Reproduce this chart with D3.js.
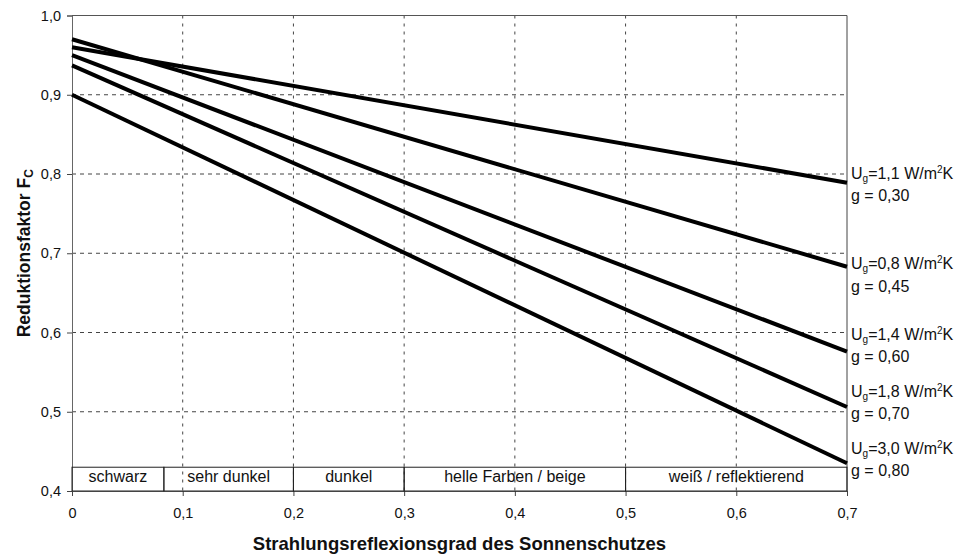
<!DOCTYPE html>
<html>
<head>
<meta charset="utf-8">
<script src="https://cdn.jsdelivr.net/npm/d3@7"></script>
<style>
  body { margin: 0; background: #fff; }
  text { font-family: "Liberation Sans", Arial, sans-serif; fill: #111; }
</style>
</head>
<body>
<div id="chart"></div>
<script>
var WIDTH = 959
var HEIGHT = 558

// curves: Reduktionsfaktor at reflexion 0 and 0.7
var ugLabels = ['1,1', '0,8', '1,4', '1,8', '3,0'];
var gLabels = ['0,30', '0,45', '0,60', '0,70', '0,80'];
var startValues = [0.960, 0.970, 0.950, 0.937, 0.900];
var endValues = [0.789, 0.683, 0.576, 0.506, 0.435];
var labelAnchors = [0.801, 0.687, 0.598, 0.526, 0.454];

var xTicks = [0, 0.1, 0.2, 0.3, 0.4, 0.5, 0.6, 0.7];
var yTicks = [0.4, 0.5, 0.6, 0.7, 0.8, 0.9, 1.0];

// colour classes along the x axis
var bandNames = ['schwarz', 'sehr dunkel', 'dunkel', 'helle Farben / beige', 'weiß / reflektierend'];
var bandEdges = [0, 0.083, 0.2, 0.3, 0.5, 0.7];
var bandTop = 0.43;

var margin = { top: 15.5, right: 112, bottom: 67, left: 72 };
var w = WIDTH - margin.left - margin.right;
var h = HEIGHT - margin.top - margin.bottom;

var xScale = d3.scaleLinear().domain([0, 0.7]).range([0, w]);
var yScale = d3.scaleLinear().domain([0.4, 1.0]).range([h, 0]);

var fmtX = d => d === 0 ? '0' : d3.format('.1f')(d).replace('.', ',');
var fmtY = d => d3.format('.1f')(d).replace('.', ',');

var svg = d3.select('#chart').append('svg')
    .attr('width', WIDTH)
    .attr('height', HEIGHT);

var g = svg.append('g')
    .attr('transform', 'translate(' + margin.left + ',' + margin.top + ')');

// grid
g.selectAll('.hgrid')
    .data(yTicks.slice(1, -1))
    .enter()
    .append('line')
    .attr('class', 'hgrid')
    .attr('x1', 0).attr('x2', w)
    .attr('y1', d => yScale(d)).attr('y2', d => yScale(d))
    .attr('stroke', '#444')
    .attr('stroke-width', 1)
    .attr('stroke-dasharray', '4,4');

g.selectAll('.vgrid')
    .data(xTicks.slice(1, -1))
    .enter()
    .append('line')
    .attr('class', 'vgrid')
    .attr('x1', d => xScale(d)).attr('x2', d => xScale(d))
    .attr('y1', 0).attr('y2', h)
    .attr('stroke', '#444')
    .attr('stroke-width', 1)
    .attr('stroke-dasharray', '3,5');

// axes
var xAxis = g.append('g')
    .attr('transform', 'translate(0,' + h + ')')
    .call(d3.axisBottom(xScale).tickValues(xTicks).tickFormat(fmtX).tickSize(5).tickPadding(12));
var yAxis = g.append('g')
    .call(d3.axisLeft(yScale).tickValues(yTicks).tickFormat(fmtY).tickSize(5).tickPadding(6));

[xAxis, yAxis].forEach(a => {
    a.select('.domain').attr('stroke', '#666');
    a.selectAll('.tick line').attr('stroke', '#444');
    a.selectAll('text')
        .attr('font-family', '"Liberation Sans", Arial, sans-serif')
        .attr('font-size', 14.5)
        .attr('fill', '#111');
});

// top and right border
g.append('line')
    .attr('x1', 0).attr('x2', w).attr('y1', 0).attr('y2', 0)
    .attr('stroke', '#555');
g.append('line')
    .attr('x1', w).attr('x2', w).attr('y1', 0).attr('y2', h)
    .attr('stroke', '#444');

// band of colour classes
var bands = bandNames.map((n, i) => ({ name: n, x0: bandEdges[i], x1: bandEdges[i + 1] }));

g.selectAll('.band')
    .data(bands)
    .enter()
    .append('rect')
    .attr('class', 'band')
    .attr('x', d => xScale(d.x0))
    .attr('y', yScale(bandTop))
    .attr('width', d => xScale(d.x1) - xScale(d.x0))
    .attr('height', yScale(0.4) - yScale(bandTop))
    .attr('fill', 'none')
    .attr('stroke', '#222')
    .attr('stroke-width', 1);

g.selectAll('.bandLabel')
    .data(bands)
    .enter()
    .append('text')
    .attr('class', 'bandLabel')
    .attr('x', d => (xScale(d.x0) + xScale(d.x1)) / 2)
    .attr('y', (yScale(bandTop) + yScale(0.4)) / 2 - 3)
    .attr('dy', '0.35em')
    .attr('text-anchor', 'middle')
    .attr('font-size', 16)
    .text(d => d.name);

// curves
var curves = ugLabels.map((u, i) => ({
    ug: u,
    g: gLabels[i],
    anchor: labelAnchors[i],
    points: [[0, startValues[i]], [0.7, endValues[i]]]
}));

var line = d3.line()
    .x(d => xScale(d[0]))
    .y(d => yScale(d[1]));

g.selectAll('.curve')
    .data(curves)
    .enter()
    .append('path')
    .attr('class', 'curve')
    .attr('d', d => line(d.points))
    .attr('fill', 'none')
    .attr('stroke', '#000')
    .attr('stroke-width', 4);

// curve labels on the right
var labels = g.selectAll('.curveLabel')
    .data(curves)
    .enter()
    .append('g')
    .attr('class', 'curveLabel')
    .attr('transform', d => 'translate(' + (w + 4) + ',' + yScale(d.anchor) + ')');

var l1 = labels.append('text')
    .attr('dy', '0.35em')
    .attr('font-size', 16);
l1.append('tspan').text('U');
l1.append('tspan').attr('font-size', 10).attr('dy', 3).text('g');
l1.append('tspan').attr('dy', -3).text(d => '=' + d.ug + ' W/m');
l1.append('tspan').attr('font-size', 10).attr('dy', -6).text('2');
l1.append('tspan').attr('dy', 6).text('K');

labels.append('text')
    .attr('y', 22.5)
    .attr('dy', '0.35em')
    .attr('font-size', 16)
    .text(d => 'g = ' + d.g);

// axis titles
var yt = svg.append('text')
    .attr('transform', 'translate(30,' + (margin.top + h / 2) + ') rotate(-90)')
    .attr('text-anchor', 'middle')
    .attr('font-size', 17.5)
    .attr('font-weight', 'bold');
yt.append('tspan').text('Reduktionsfaktor F');
yt.append('tspan').attr('font-size', 12).attr('dy', 3).text('C');

svg.append('text')
    .attr('x', margin.left + w / 2)
    .attr('y', 550)
    .attr('text-anchor', 'middle')
    .attr('font-size', 18.5)
    .attr('font-weight', 'bold')
    .text('Strahlungsreflexionsgrad des Sonnenschutzes');
</script>
</body>
</html>
